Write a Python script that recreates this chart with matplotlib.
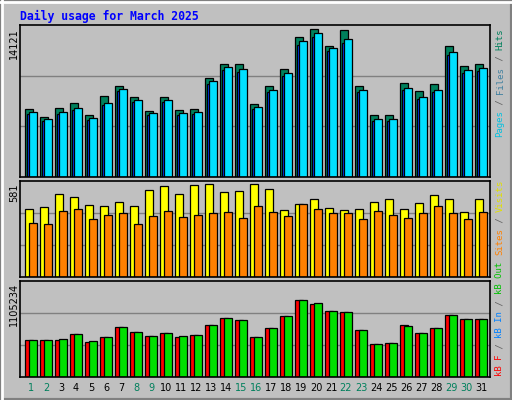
import matplotlib
matplotlib.use("Agg")
import matplotlib.pyplot as plt
from matplotlib.patches import Rectangle

days = list(range(1, 32))
weekend = [1, 2, 8, 9, 15, 16, 22, 23, 29, 30]
hits = [6286, 5543, 6379, 6844, 5729, 7494, 8423, 7401, 6100, 7401, 6193, 6286, 9166, 10467, 10467, 6751,
        8423, 10002, 12975, 13718, 12139, 13625, 8423, 5729, 5729, 8702, 7959, 8609, 12139, 10281, 10467]
files = [6008, 5357, 6008, 6379, 5450, 6844, 8144, 7122, 5915, 7122, 5915, 6008, 8887, 10188, 10002, 6472,
         8051, 9631, 12604, 13347, 11953, 12789, 8051, 5357, 5357, 8237, 7401, 8051, 11582, 9909, 10095]
pages = [5860, 5230, 5860, 6230, 5320, 6680, 7950, 6950, 5770, 6950, 5770, 5860, 8670, 9940, 9760, 6320,
         7860, 9400, 12300, 13030, 11670, 12480, 7860, 5230, 5230, 8040, 7220, 7860, 11300, 9670, 9850]
visits = [413, 425, 500, 482, 438, 432, 456, 432, 527, 551, 500, 557, 563, 513, 519, 563,
          532, 407, 444, 470, 419, 407, 413, 456, 474, 413, 450, 494, 470, 395, 474]
sites = [325, 319, 401, 413, 351, 377, 389, 319, 371, 401, 363, 377, 389, 395, 357, 430,
         395, 371, 440, 413, 389, 389, 351, 401, 377, 357, 389, 432, 389, 351, 395]
kb_out = [430, 422, 437, 494, 414, 456, 579, 522, 472, 505, 472, 480, 602, 685, 652, 456,
          568, 702, 884, 852, 760, 745, 538, 381, 389, 591, 508, 560, 717, 668, 668]
kb_f = [430, 422, 430, 494, 407, 456, 579, 522, 472, 505, 464, 480, 602, 685, 652, 456,
        568, 702, 884, 844, 760, 745, 538, 381, 389, 602, 508, 560, 717, 668, 668]
kb_f = [v * 1000 for v in kb_f]
kb_out = [v * 1000 for v in kb_out]
kb_in = [4000] * 31
max_hits, max_visits, max_kb = 14121, 581, 1105234

W, H = 512, 400
BG = "#c0c0c0"
fig = plt.figure(figsize=(W / 100, H / 100), dpi=100, facecolor=BG)

# bevel border
fig.patches.append(Rectangle((0, 0), 1, 1, transform=fig.transFigure, fill=False, ec="#808080", lw=3))
fig.add_artist(plt.Line2D([0, 1], [1 - 1.5 / H, 1 - 1.5 / H], transform=fig.transFigure, color="white", lw=2))
fig.add_artist(plt.Line2D([1.5 / W, 1.5 / W], [0, 1], transform=fig.transFigure, color="white", lw=2))

def make_ax(top, bottom):
    ax = fig.add_axes([20 / W, 1 - bottom / H, 470 / W, (bottom - top) / H])
    ax.set_facecolor(BG)
    ax.set_xlim(0, 470 / 15)
    for s in ax.spines.values():
        s.set_color("black"); s.set_linewidth(1.2)
    ax.set_xticks([]); ax.set_yticks([])
    return ax

x = [d - 1 for d in days]
ec = dict(edgecolor="black", linewidth=0.9, align="edge")

ax1 = make_ax(25, 177)
ax1.set_ylim(0, max_hits)
for g in (max_hits / 3, 2 * max_hits / 3):
    ax1.axhline(g, color="#808080", lw=1, zorder=0)
ax1.bar([v + 5 / 15 for v in x], hits, width=8 / 15, color="#00805c", **ec)
ax1.bar([v + 7 / 15 for v in x], pages, width=4 / 15, color="#0040ff", **ec)
ax1.bar([v + 9 / 15 for v in x], files, width=8 / 15, color="#00e0ff", **ec)

ax2 = make_ax(181, 277)
ax2.set_ylim(0, max_visits)
for g in (max_visits / 3, 2 * max_visits / 3):
    ax2.axhline(g, color="#808080", lw=1, zorder=0)
ax2.bar([v + 5 / 15 for v in x], visits, width=8 / 15, color="#ffff00", **ec)
ax2.bar([v + 9 / 15 for v in x], sites, width=8 / 15, color="#ff8000", **ec)

ax3 = make_ax(281, 377)
ax3.set_ylim(0, max_kb)
for g in (max_kb / 3, 2 * max_kb / 3):
    ax3.axhline(g, color="#808080", lw=1, zorder=0)
ax3.bar([v + 5 / 15 for v in x], kb_f, width=8 / 15, color="#ff0000", **ec)
ax3.bar([v + 7 / 15 for v in x], kb_in, width=3 / 15, color="#0080ff", **ec)
ax3.bar([v + 9 / 15 for v in x], kb_out, width=8 / 15, color="#00e000", **ec)

def fx(px): return px / W
def fy(py): return 1 - py / H

fig.text(fx(20), fy(16), "Daily usage for March 2025", family="DejaVu Sans Mono", weight="bold",
         fontsize=8.3, color="#0000ff", va="center", ha="left")

for label, ytop in (("14121", 28), ("581", 183), ("1105234", 283)):
    fig.text(fx(14), fy(ytop), label, rotation=90, fontsize=7, family="DejaVu Sans",
             va="top", ha="center", color="black")

for d in days:
    xc = 20 + (d - 1) * 15 + 5 + 6
    fig.text(fx(xc), fy(388), str(d), fontsize=7, family="DejaVu Sans", ha="center", va="center",
             color="#00805c" if d in weekend else "black")

CW = 0.602 * 6.5 * 100 / 72
def multi(parts, ybottom, xc=500):
    y = ybottom
    for txt, col in parts:
        fig.text(fx(xc), fy(y), txt, rotation=90, family="DejaVu Sans Mono", fontsize=6.5,
                 color=col, ha="center", va="bottom")
        y -= len(txt) * CW

multi([("Pages", "#00c0e0"), (" / ", "#606060"), ("Files", "#4080a0"), (" / ", "#606060"), ("Hits", "#00805c")], 137)
multi([("Sites", "#ff8000"), (" / ", "#606060"), ("Visits", "#e0e000")], 255)
multi([("kB F", "#ff0000"), (" / ", "#606060"), ("kB In", "#0080ff"), (" / ", "#606060"), ("kB Out", "#00c000")], 376)

fig.savefig("out.png", dpi=100, facecolor=BG)
